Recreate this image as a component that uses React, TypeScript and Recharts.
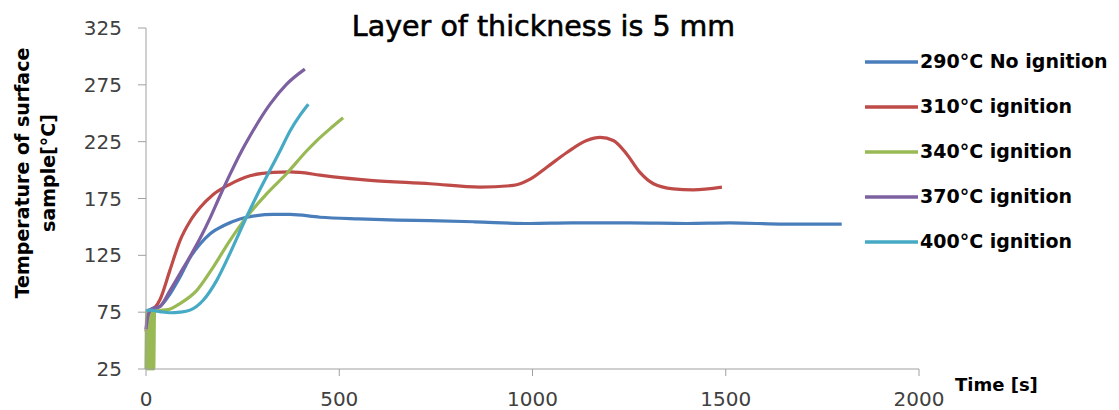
import { LineChart, Line, XAxis, YAxis, Legend } from "recharts";

const xTicks = [0, 500, 1000, 1500, 2000];
const yTicks = [25, 75, 125, 175, 225, 275, 325];

const seriesNames = [
  "290°C No ignition",
  "310°C ignition",
  "340°C ignition",
  "370°C ignition",
  "400°C ignition",
];
const seriesColors = ["#4A7EBB", "#BE4B48", "#98B954", "#7D60A0", "#46AAC5"];

// 290°C - no ignition
const blueTimes = [0, 10, 36, 62, 88, 114, 140, 166, 200, 243, 286, 329, 373, 450, 550, 650, 735, 850, 994, 1100, 1252, 1400, 1511, 1650, 1770, 1800];
const blueTemps = [76, 77, 80, 91, 106, 123, 135, 144, 151, 157, 160, 161, 161, 158.5, 157, 156, 155.5, 154.5, 153, 153.5, 153.5, 153, 153.5, 152.5, 152.5, 152.5];

// 310°C
const redTimes = [0, 6, 15, 25, 36, 62, 88, 114, 140, 174, 217, 269, 329, 373, 398, 450, 485, 580, 735, 864, 950, 994, 1037, 1089, 1140, 1175, 1209, 1244, 1278, 1313, 1364, 1416, 1490];
const redTemps = [58, 70, 77, 80, 86, 112, 138, 155, 167, 178.5, 187.5, 195, 198, 198.5, 198, 195.5, 194, 191, 188, 185, 186.5, 192, 202.5, 215.5, 226, 228.8, 226, 214, 198, 188, 183.5, 182.6, 185];

// 340°C
const greenTimes = [0, 2, 4, 6, 8, 10, 12, 14, 16, 18, 20, 22, 36, 60, 88, 131, 174, 217, 260, 312, 364, 416, 442, 475, 510];
const greenTemps = [25, 76, 25, 76, 25, 76, 25, 76, 25, 76, 25, 76, 76.5, 77.5, 82.6, 94, 114.7, 138, 158.6, 179, 197, 217, 226, 236, 246];

// 370°C
const purpleTimes = [0, 5, 15, 36, 62, 88, 114, 140, 166, 191, 217, 243, 269, 321, 364, 411];
const purpleTemps = [60, 72, 78, 80, 94, 109, 124, 140, 158, 177, 196, 214, 230, 258, 275.6, 288.8];

// 400°C
const cyanTimes = [0, 10, 36, 62, 88, 114, 148, 183, 217, 252, 286, 321, 347, 373, 400, 420];
const cyanTemps = [76, 76.8, 75.5, 74.5, 75, 76.8, 85.5, 103, 126.5, 152.8, 177, 200, 217, 234.6, 249, 258];

const toPoints = (times: number[], temps: number[]) =>
  times.map((t, i) => ({ t, v: temps[i] }));

const series = [
  { name: seriesNames[0], color: seriesColors[0], data: toPoints(blueTimes, blueTemps) },
  { name: seriesNames[1], color: seriesColors[1], data: toPoints(redTimes, redTemps) },
  { name: seriesNames[2], color: seriesColors[2], data: toPoints(greenTimes, greenTemps) },
  { name: seriesNames[3], color: seriesColors[3], data: toPoints(purpleTimes, purpleTemps) },
  { name: seriesNames[4], color: seriesColors[4], data: toPoints(cyanTimes, cyanTemps) },
];

const FONT = "DejaVu Sans";

const LegendBox = () => (
  <div style={{ fontFamily: FONT, fontWeight: "bold", fontSize: 19, color: "#000", whiteSpace: "nowrap" }}>
    {series.map((s) => (
      <div key={s.name} style={{ display: "flex", alignItems: "center", height: 45 }}>
        <svg width={53} height={6} style={{ display: "block" }}>
          <line x1={0} y1={3} x2={53} y2={3} stroke={s.color} strokeWidth={3.5} />
        </svg>
        <span style={{ marginLeft: 2, lineHeight: 1 }}>{s.name}</span>
      </div>
    ))}
  </div>
);

const YTitle = () => (
  <text transform="rotate(-90)" textAnchor="middle" fontFamily={FONT} fontWeight="bold" fontSize={19} fill="#000">
    <tspan x={-173} y={29}>Temperature of surface</tspan>
    <tspan x={-173} y={55}>sample[°C]</tspan>
  </text>
);

const XTitle = () => (
  <text x={955} y={391} fontFamily={FONT} fontWeight="bold" fontSize={18} fill="#000">
    Time [s]
  </text>
);

export default function App() {
  return (
    <div style={{ position: "absolute", left: 0, top: 0, width: 1119, height: 410, background: "#fff" }}>
      <div
        style={{
          position: "absolute",
          left: 0,
          top: 13,
          width: 1087,
          textAlign: "center",
          fontFamily: FONT,
          fontSize: 28.5,
          lineHeight: 1,
          color: "#000",
          WebkitTextStroke: "0.6px #000",
          zIndex: 2,
        }}
      >
        Layer of thickness is 5 mm
      </div>
      <LineChart width={1119} height={410} margin={{ top: 28, right: 200, bottom: 0, left: 0 }}>
        <XAxis
          dataKey="t"
          type="number"
          domain={[0, 2000]}
          ticks={xTicks}
          height={41}
          stroke="#a0a0a0"
          tickSize={7}
          tickMargin={16}
          tick={{ fill: "#404040", fontSize: 20, fontFamily: FONT }}
          label={<XTitle />}
        />
        <YAxis
          type="number"
          domain={[25, 325]}
          ticks={yTicks}
          width={146}
          stroke="#a0a0a0"
          tickSize={8}
          tickMargin={16}
          tick={{ fill: "#404040", fontSize: 20, fontFamily: FONT }}
          label={<YTitle />}
        />
        <Legend
          layout="vertical"
          align="center"
          verticalAlign="middle"
          content={<LegendBox />}
          wrapperStyle={{ left: 865, top: 39, width: 254 }}
        />
        {series.map((s) => (
          <Line
            key={s.name}
            name={s.name}
            data={s.data}
            dataKey="v"
            type="monotone"
            stroke={s.color}
            strokeWidth={3.2}
            dot={false}
            activeDot={false}
            isAnimationActive={false}
          />
        ))}
      </LineChart>
    </div>
  );
}
